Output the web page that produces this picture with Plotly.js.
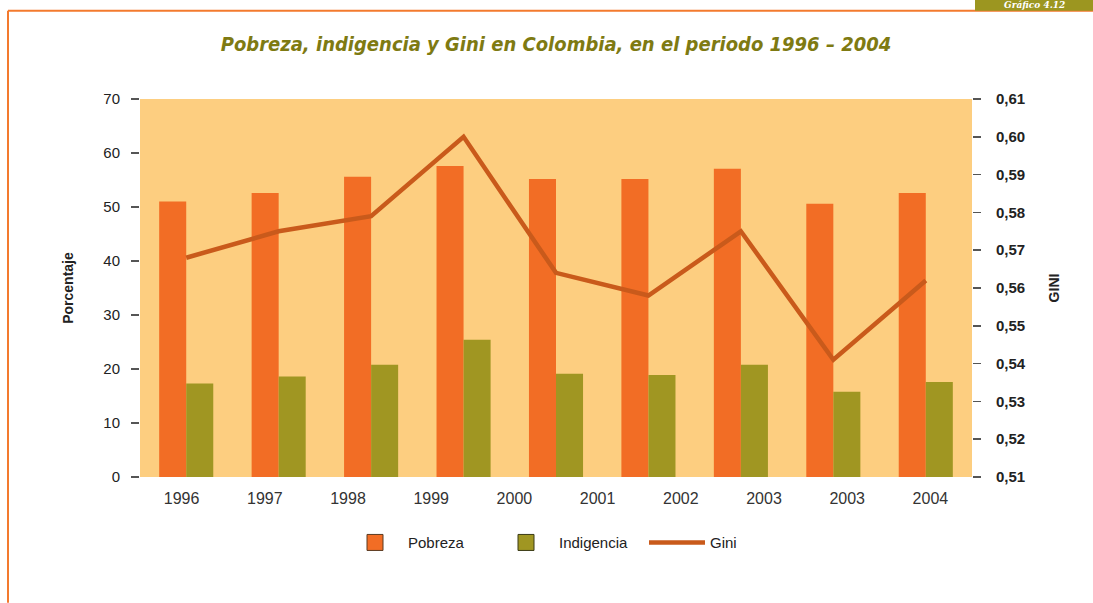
<!DOCTYPE html>
<html>
<head>
<meta charset="utf-8">
<script src="https://cdn.plot.ly/plotly-3.0.1.min.js"></script>
<style>html,body{margin:0;padding:0;background:#fff;}#chart{width:1093px;height:603px;}</style>
</head>
<body>
<div id="chart"></div>
<script>
// Data groups (9 periods) and tick labels (10 labels, as printed in the source)
var groups = [0, 1, 2, 3, 4, 5, 6, 7, 8];
var pobreza = [51.0, 52.6, 55.6, 57.6, 55.2, 55.2, 57.1, 50.6, 52.6];
var indigencia = [17.3, 18.6, 20.8, 25.4, 19.1, 18.9, 20.8, 15.8, 17.6];
var gini = [0.568, 0.575, 0.579, 0.600, 0.564, 0.558, 0.575, 0.541, 0.562];
var tickLabels = ['1996', '1997', '1998', '1999', '2000', '2001', '2002', '2003', '2003', '2004'];
var tickPositions = tickLabels.map(function (_, i) { return i; });
var seriesNames = ['Pobreza', 'Indigencia', 'Gini'];
var seriesColors = ['#F26D25', '#A09622', '#C95A1B'];

function nulls(n) { var a = []; for (var i = 0; i < n; i++) a.push(null); return a; }

var traces = [
  {type: 'bar', name: seriesNames[0], x: groups, y: pobreza, xaxis: 'x', yaxis: 'y',
   marker: {color: seriesColors[0]}, showlegend: false, legendgroup: 'p'},
  {type: 'bar', name: seriesNames[1], x: groups, y: indigencia, xaxis: 'x', yaxis: 'y',
   marker: {color: seriesColors[1]}, showlegend: false, legendgroup: 'i'},
  // legend entries with larger boxed swatches
  {type: 'scatter', mode: 'markers', name: seriesNames[0], x: groups, y: nulls(groups.length),
   xaxis: 'x', yaxis: 'y', legendgroup: 'p', hoverinfo: 'skip',
   marker: {symbol: 'square', size: 16, color: seriesColors[0], line: {color: '#5a3a20', width: 1}}},
  {type: 'scatter', mode: 'markers', name: seriesNames[1], x: groups, y: nulls(groups.length),
   xaxis: 'x', yaxis: 'y', legendgroup: 'i', hoverinfo: 'skip',
   marker: {symbol: 'square', size: 16, color: seriesColors[1], line: {color: '#3a3a15', width: 1}}},
  {type: 'scatter', mode: 'lines', name: seriesNames[2], x: groups, y: gini, xaxis: 'x', yaxis: 'y2',
   line: {color: seriesColors[2], width: 4.5}},
  {type: 'scatter', mode: 'markers', x: tickPositions, y: nulls(tickPositions.length),
   xaxis: 'x2', yaxis: 'y', showlegend: false, hoverinfo: 'skip', marker: {opacity: 0}}
];

// helpers to convert pixel positions into paper coordinates for decoration
var L = 140, R = 972, T = 99.3, B = 477.3;
function px(x) { return (x - L) / (R - L); }
function py(y) { return (B - y) / (B - T); }

var layout = {
  width: 1093, height: 603,
  margin: {l: L, r: 1093 - R, t: T, b: 603 - B, pad: 0},
  paper_bgcolor: '#ffffff',
  plot_bgcolor: '#FDCE80',
  separators: ',.',
  barmode: 'group',
  bargap: 0.415,
  bargroupgap: 0,
  showlegend: true,
  title: {
    text: '<b><i>Pobreza, indigencia y Gini en Colombia, en el periodo 1996 – 2004</i></b>',
    font: {family: 'DejaVu Sans Condensed, DejaVu Sans', size: 20, color: '#7E7A12'},
    x: 0.5, xref: 'paper', xanchor: 'center',
    y: 1 - 44 / 603, yref: 'container', yanchor: 'middle'
  },
  xaxis: {
    range: [-0.5, 8.5], showticklabels: false, ticks: '', showgrid: false,
    zeroline: false, showline: false, fixedrange: true
  },
  xaxis2: {
    overlaying: 'x', anchor: 'y', side: 'bottom',
    range: [-0.5, 9.5], tickmode: 'array', tickvals: tickPositions, ticktext: tickLabels,
    ticks: 'outside', ticklen: 7, tickcolor: 'rgba(0,0,0,0)',
    showgrid: false, zeroline: false, showline: false,
    tickfont: {family: 'Liberation Sans, Arial', size: 16, color: '#333333'}
  },
  yaxis: {
    range: [0, 70], dtick: 10, tick0: 0,
    ticks: 'outside', ticklen: 8, tickwidth: 1.5, tickcolor: '#555555',
    ticklabelstandoff: 8,
    showgrid: false, zeroline: false, showline: false,
    tickfont: {family: 'Liberation Sans, Arial', size: 15, color: '#222222'},
    title: {text: '<b>Porcentaje</b>', font: {family: 'Liberation Sans, Arial', size: 14, color: '#222222'}, standoff: 26}
  },
  yaxis2: {
    overlaying: 'y', side: 'right', anchor: 'x',
    range: [0.51, 0.61], dtick: 0.01, tick0: 0.51, tickformat: '.2f',
    ticks: 'outside', ticklen: 8, tickwidth: 1.5, tickcolor: '#555555',
    ticklabelstandoff: 12,
    showgrid: false, zeroline: false, showline: false,
    tickfont: {family: 'Liberation Sans, Arial', size: 15, color: '#222222', weight: 'bold'},
    title: {text: '<b>GINI</b>', font: {family: 'Liberation Sans, Arial', size: 14, color: '#222222'}, standoff: 24}
  },
  legend: {
    orientation: 'h', x: px(342), xanchor: 'left', y: py(543), yanchor: 'middle',
    font: {family: 'Liberation Sans, Arial', size: 15, color: '#222222'},
    itemwidth: 56, entrywidth: 80, entrywidthmode: 'pixels',
    tracegroupgap: 0, bgcolor: 'rgba(0,0,0,0)',
    traceorder: 'normal'
  },
  shapes: [
    {type: 'line', xref: 'paper', yref: 'paper', x0: px(8), x1: px(1093), y0: py(11), y1: py(11),
     line: {color: '#F37A2E', width: 2}},
    {type: 'line', xref: 'paper', yref: 'paper', x0: px(8), x1: px(8), y0: py(11), y1: py(603),
     line: {color: '#F37A2E', width: 2}},
    {type: 'rect', xref: 'paper', yref: 'paper', x0: px(975), x1: px(1093), y0: py(11), y1: py(-2),
     line: {width: 0}, fillcolor: '#9C9620'}
  ],
  annotations: [
    {xref: 'paper', yref: 'paper', x: px(1034), y: py(5.5), xanchor: 'center', yanchor: 'middle',
     text: '<b><i>Gráfico 4.12</i></b>', showarrow: false, borderpad: 0,
     font: {family: 'DejaVu Serif', size: 9, color: '#ffffff'}}
  ]
};

Plotly.newPlot('chart', traces, layout, {displayModeBar: false, staticPlot: true});
</script>
</body>
</html>
